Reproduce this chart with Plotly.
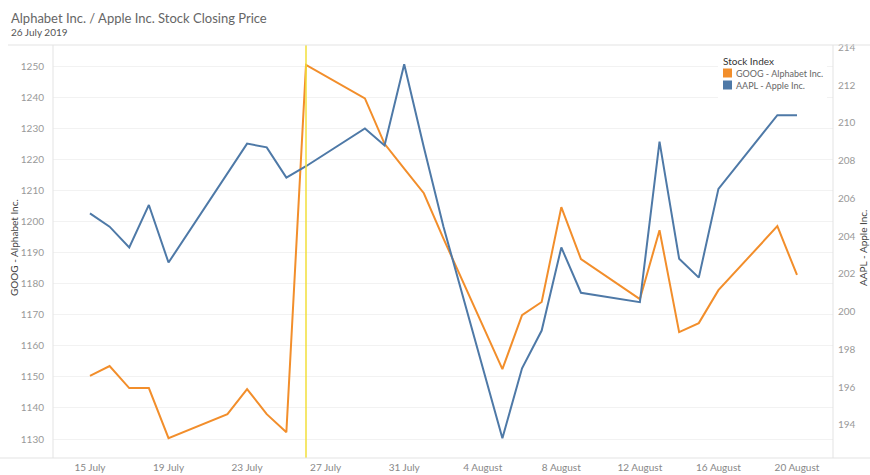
import plotly.graph_objects as go

dates = ["2019-07-15", "2019-07-16", "2019-07-17", "2019-07-18", "2019-07-19",
         "2019-07-22", "2019-07-23", "2019-07-24", "2019-07-25", "2019-07-26",
         "2019-07-29", "2019-07-30", "2019-07-31", "2019-08-01", "2019-08-02",
         "2019-08-05", "2019-08-06", "2019-08-07", "2019-08-08", "2019-08-09",
         "2019-08-12", "2019-08-13", "2019-08-14", "2019-08-15", "2019-08-16",
         "2019-08-19", "2019-08-20"]
goog = [1150.3, 1153.5, 1146.4, 1146.4, 1130.3,
        1138.0, 1146.1, 1138.0, 1132.2, 1250.4,
        1239.6, 1225.0, 1217.0, 1209.1, 1194.5,
        1152.5, 1169.9, 1174.1, 1204.6, 1187.9,
        1175.0, 1197.2, 1164.4, 1167.3, 1177.9,
        1198.5, 1182.8]
aapl = [205.2, 204.5, 203.4, 205.65, 202.6,
        207.3, 208.9, 208.7, 207.1, 207.7,
        209.7, 208.8, 213.1, 208.7, 204.5,
        193.3, 197.0, 199.0, 203.4, 201.0,
        200.5, 209.0, 202.8, 201.8, 206.5,
        210.4, 210.4]
tick_dates = ["2019-07-15", "2019-07-19", "2019-07-23", "2019-07-27", "2019-07-31",
              "2019-08-04", "2019-08-08", "2019-08-12", "2019-08-16", "2019-08-20"]
tick_labels = ["15 July", "19 July", "23 July", "27 July", "31 July",
               "4 August", "8 August", "12 August", "16 August", "20 August"]
goog_ticks = list(range(1130, 1251, 10))
aapl_ticks = list(range(194, 215, 2))
ref_date = "2019-07-26"

title = "Alphabet Inc. / Apple Inc. Stock Closing Price"
subtitle = "26 July 2019"
series_names = ["GOOG - Alphabet Inc.", "AAPL - Apple Inc."]
colors = ["#F28E2B", "#4E79A7"]

W, H = 870, 475
L, R, T, B = 53, 37, 45, 17
PW, PH = W - L - R, H - T - B


def px(x):
    return (x - L) / PW


def py(y):
    return (H - B - y) / PH


FONT = "Lato, 'Open Sans', sans-serif"

fig = go.Figure()
fig.add_trace(go.Scatter(x=dates, y=goog, mode="lines", name=series_names[0],
                         line=dict(color=colors[0], width=2), yaxis="y",
                         showlegend=False))
fig.add_trace(go.Scatter(x=dates, y=aapl, mode="lines", name=series_names[1],
                         line=dict(color=colors[1], width=2), yaxis="y2",
                         showlegend=False))

shapes = []
# reference line
shapes.append(dict(type="line", xref="x", yref="paper", x0=ref_date, x1=ref_date,
                   y0=0, y1=1, line=dict(color="#F2DF3A", width=1.5), layer="above"))
# frame lines
gl = "#e3e3e3"
shapes.append(dict(type="line", xref="paper", yref="paper", x0=px(8), x1=px(870),
                   y0=1, y1=1, line=dict(color=gl, width=1)))
shapes.append(dict(type="line", xref="paper", yref="paper", x0=px(0), x1=px(870),
                   y0=0, y1=0, line=dict(color=gl, width=1)))
shapes.append(dict(type="line", xref="paper", yref="paper", x0=0, x1=0,
                   y0=0, y1=1, line=dict(color=gl, width=1)))
shapes.append(dict(type="line", xref="paper", yref="paper", x0=1, x1=1,
                   y0=0, y1=1, line=dict(color=gl, width=1)))
# legend background
shapes.append(dict(type="rect", xref="paper", yref="paper", x0=px(718), x1=px(827),
                   y0=py(99), y1=py(50), fillcolor="white", line=dict(width=0),
                   layer="above"))
# legend swatches
for i, c in enumerate(colors):
    yc = 73 + 12 * i
    shapes.append(dict(type="rect", xref="paper", yref="paper", x0=px(723), x1=px(732),
                       y0=py(yc + 4.5), y1=py(yc - 4.5), fillcolor=c,
                       line=dict(width=0), layer="above"))

ann = []
ann.append(dict(text=title, xref="paper", yref="paper", x=px(9), y=py(18),
                xanchor="left", yanchor="middle", showarrow=False,
                font=dict(family=FONT, size=13, color="#666666")))
ann.append(dict(text=subtitle, xref="paper", yref="paper", x=px(9), y=py(32),
                xanchor="left", yanchor="middle", showarrow=False,
                font=dict(family=FONT, size=10, color="#555555")))
ann.append(dict(text=series_names[0], xref="paper", yref="paper", x=px(14), y=py(248),
                xanchor="center", yanchor="middle", showarrow=False, textangle=-90,
                font=dict(family=FONT, size=10, color="#444444")))
ann.append(dict(text=series_names[1], xref="paper", yref="paper", x=px(863), y=py(248),
                xanchor="center", yanchor="middle", showarrow=False, textangle=-90,
                font=dict(family=FONT, size=10, color="#444444")))
ann.append(dict(text="Stock Index", xref="paper", yref="paper", x=px(721), y=py(61),
                xanchor="left", yanchor="middle", showarrow=False,
                font=dict(family=FONT, size=10, color="#333333")))
for i, n in enumerate(series_names):
    ann.append(dict(text=n, xref="paper", yref="paper", x=px(734), y=py(73 + 12 * i),
                    xanchor="left", yanchor="middle", showarrow=False,
                    font=dict(family=FONT, size=9, color="#666666")))

fig.update_layout(
    width=W, height=H,
    margin=dict(l=L, r=R, t=T, b=B, pad=0, autoexpand=False),
    paper_bgcolor="white", plot_bgcolor="white",
    font=dict(family=FONT, size=10, color="#888888"),
    showlegend=False,
    shapes=shapes, annotations=ann,
    xaxis=dict(type="date", range=["2019-07-13 02:50", "2019-08-21 20:00"],
               tickvals=tick_dates, ticktext=tick_labels, showgrid=False,
               zeroline=False, showline=False, ticks="", automargin=False,
               ticklabelstandoff=2,
               tickfont=dict(family=FONT, size=10, color="#888888")),
    yaxis=dict(range=[1123.9, 1256.8], tickvals=goog_ticks, showgrid=True,
               gridcolor="#f2f2f2", gridwidth=1, zeroline=False, showline=False,
               ticks="", ticklabelstandoff=8, automargin=False,
               tickfont=dict(family=FONT, size=10, color="#999999")),
    yaxis2=dict(range=[192.25, 214.12], tickvals=aapl_ticks, overlaying="y",
                side="right", showgrid=False, zeroline=False, showline=False,
                ticks="", ticklabelstandoff=4, automargin=False,
                tickfont=dict(family=FONT, size=10, color="#999999")),
)

fig.write_html("out.html", config={"displayModeBar": False},
               post_script="document.body.style.margin='0';document.body.style.overflow='hidden';")
